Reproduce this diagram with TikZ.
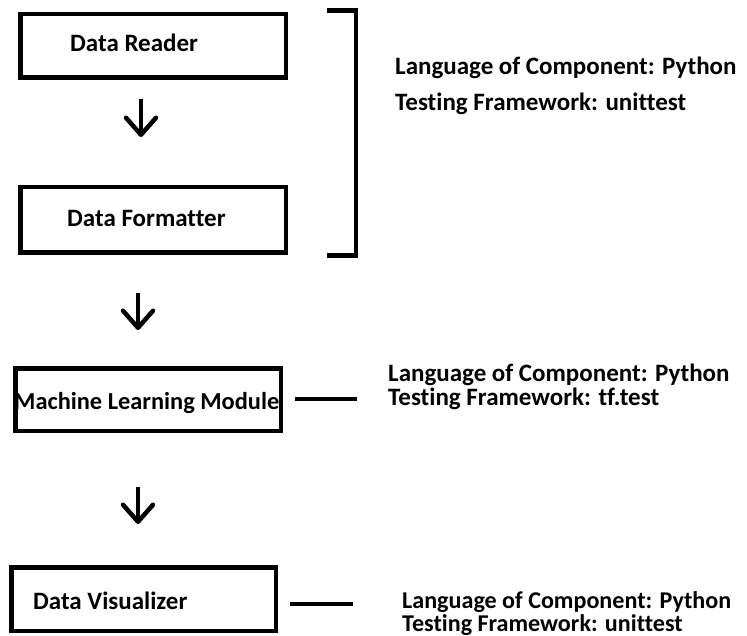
\documentclass[tikz,border=0pt]{standalone}
\usepackage{fontspec}
\setmainfont{Carlito}[Ligatures=NoCommon]
\usetikzlibrary{arrows.meta}
\begin{document}
\begin{tikzpicture}[x=1pt,y=-1pt,
  box/.style={draw, line width=4.5pt, minimum width=265.5pt, inner sep=0pt},
  lbl/.style={font=\fontsize{25}{29}\selectfont\bfseries, inner sep=0pt, anchor=base west},
  small/.style={font=\fontsize{24.1}{28}\selectfont\bfseries},
  flow/.style={line width=4.5pt, -{Straight Barb[length=17pt,width=30pt,round]}},
  tie/.style={line width=4.5pt},
]
\useasboundingbox (0,0) rectangle (747,636);

% component boxes
\node[box, minimum height=63.5pt] (reader) at (153,46) {};
\node[box, minimum height=65.5pt] (formatter) at (153,220) {};
\node[box, minimum height=62.5pt] (ml) at (148,399.5) {};
\node[box, minimum width=264.5pt, minimum height=63.5pt] (vis) at (143.5,599) {};

% box captions
\node[lbl] (reader-txt) at (70,52) {Data Reader};
\node[lbl] (formatter-txt) at (67,227) {Data Formatter};
\node[lbl, font=\fontsize{24.4}{29}\selectfont\bfseries] (ml-txt) at (14,409) {Machine Learning Module};
\node[lbl] (vis-txt) at (33,609) {Data Visualizer};

% flow arrows between stages
\coordinate (f1a) at (141,99);   \coordinate (f1b) at (141,137);
\coordinate (f2a) at (138,293);  \coordinate (f2b) at (138,330);
\coordinate (f3a) at (138,487);  \coordinate (f3b) at (138,524);
\draw[flow] (f1a) -- (f1b);
\draw[flow] (f2a) -- (f2b);
\draw[flow] (f3a) -- (f3b);

% bracket grouping reader and formatter
\coordinate (br1) at (327,10.5);
\coordinate (br2) at (356,10.5);
\coordinate (br3) at (356,255.5);
\coordinate (br4) at (327,255.5);
\draw[tie, line join=miter] (br1) -- (br2) -- (br3) -- (br4);

% component details
\node[lbl] (io-lang) at (395,75) {Language of Component: Python};
\node[lbl] (io-test) at (395,111) {Testing Framework: unittest};
\node[lbl] (ml-lang) at (388,381) {Language of Component: Python};
\node[lbl] (ml-test) at (388,405) {Testing Framework: tf.test};
\node[lbl, small] (vis-lang) at (402,608) {Language of Component: Python};
\node[lbl, small] (vis-test) at (402,631.5) {Testing Framework: unittest};

% ties from boxes to their details
\draw[tie] ([shift={(12,-0.5)}]ml.east) -- ([shift={(-31,-0.5)}]ml-lang.west |- ml.east);
\draw[tie] ([shift={(12,5)}]vis.east) -- ([shift={(-49,5)}]vis-lang.west |- vis.east);
\end{tikzpicture}
\end{document}
